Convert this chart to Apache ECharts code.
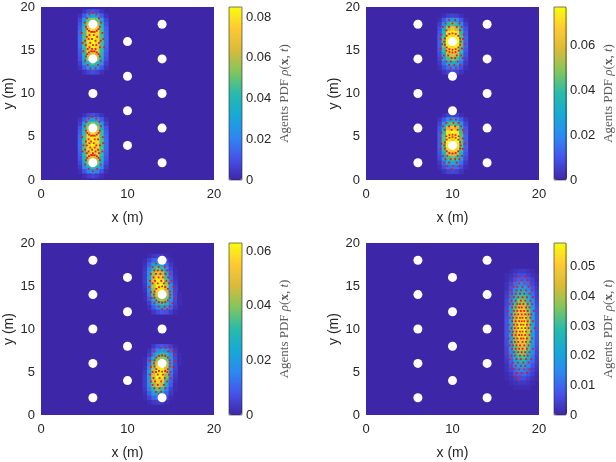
<!DOCTYPE html>
<html>
<head>
<meta charset="utf-8">
<style>
  html, body { margin: 0; padding: 0; width: 100%; height: 100%; overflow: hidden; background: #fff; }
</style>
<script src="https://cdn.jsdelivr.net/npm/echarts@6/dist/echarts.min.js"></script>
</head>
<body>
<div id="container" style="width:616px;height:462px;"></div>
<script>
// obstacle centres (m)
const obstacles = [[6, 2], [6, 6], [6, 10], [6, 14], [6, 18], [10, 4], [10, 8], [10, 12], [10, 16],
  [14, 2], [14, 6], [14, 10], [14, 14], [14, 18]];

// density blobs: [x of first column, y of top row, rows of values in units of 0.001], 0.5 m cells
const density1 = [
  [4.5, 19.5, [
    [0, 3, 8, 10, 8, 3, 0],
    [3, 12, 25, 30, 25, 12, 3],
    [7, 28, 50, 55, 50, 28, 7],
    [10, 38, 62, 65, 62, 38, 10],
    [13, 44, 72, 80, 72, 44, 13],
    [15, 46, 76, 84, 76, 46, 15],
    [16, 47, 77, 85, 77, 47, 16],
    [16, 47, 77, 85, 77, 47, 16],
    [15, 46, 76, 84, 76, 46, 15],
    [13, 44, 72, 80, 72, 44, 13],
    [11, 40, 64, 68, 64, 40, 11],
    [9, 34, 56, 58, 56, 34, 9],
    [6, 24, 42, 46, 42, 24, 6],
    [3, 12, 24, 28, 24, 12, 3],
    [0, 3, 7, 9, 7, 3, 0]]],
  [4.5, 7.5, [
    [0, 3, 7, 9, 7, 3, 0],
    [3, 12, 24, 28, 24, 12, 3],
    [6, 26, 48, 52, 48, 26, 6],
    [10, 36, 60, 62, 60, 36, 10],
    [13, 44, 71, 79, 71, 44, 13],
    [15, 46, 76, 84, 76, 46, 15],
    [16, 47, 78, 85, 78, 47, 16],
    [16, 47, 77, 85, 77, 47, 16],
    [15, 46, 75, 83, 75, 46, 15],
    [13, 43, 70, 78, 70, 43, 13],
    [11, 38, 62, 66, 62, 38, 11],
    [8, 32, 52, 56, 52, 32, 8],
    [5, 22, 38, 42, 38, 22, 5],
    [2, 10, 20, 24, 20, 10, 2],
    [0, 2, 5, 7, 5, 2, 0]]]
];
const density2 = [
  [8.5, 19.0, [
    [0, 2, 5, 6, 5, 2, 0],
    [2, 10, 20, 25, 20, 10, 2],
    [5, 20, 38, 45, 38, 20, 5],
    [8, 30, 55, 65, 55, 30, 8],
    [10, 38, 70, 77, 70, 38, 10],
    [12, 42, 75, 70, 75, 42, 12],
    [12, 45, 77, 60, 77, 45, 12],
    [12, 45, 75, 70, 75, 45, 12],
    [10, 40, 68, 75, 68, 40, 10],
    [8, 32, 55, 60, 55, 32, 8],
    [6, 25, 42, 48, 42, 25, 6],
    [4, 15, 28, 32, 28, 15, 4],
    [2, 8, 15, 18, 15, 8, 2],
    [0, 3, 6, 7, 6, 3, 0]]],
  [8.5, 7.5, [
    [0, 2, 5, 6, 5, 2, 0],
    [3, 10, 20, 24, 20, 10, 3],
    [6, 22, 40, 46, 40, 22, 6],
    [9, 32, 58, 66, 58, 32, 9],
    [11, 40, 72, 77, 72, 40, 11],
    [12, 44, 77, 75, 77, 44, 12],
    [12, 45, 76, 65, 76, 45, 12],
    [12, 44, 74, 60, 74, 44, 12],
    [11, 40, 68, 68, 68, 40, 11],
    [9, 32, 55, 60, 55, 32, 9],
    [7, 24, 40, 45, 40, 24, 7],
    [4, 15, 26, 30, 26, 15, 4],
    [2, 8, 14, 16, 14, 8, 2],
    [0, 3, 6, 7, 6, 3, 0]]]
];
const density3 = [
  [12.0, 18.5, [
    [0, 1, 3, 4, 3, 1, 0, 0, 0],
    [1, 5, 10, 12, 10, 5, 1, 0, 0],
    [2, 9, 20, 24, 20, 10, 3, 0, 0],
    [3, 14, 30, 38, 32, 16, 5, 1, 0],
    [4, 18, 40, 50, 44, 24, 8, 1, 0],
    [4, 20, 46, 58, 54, 32, 10, 2, 0],
    [4, 20, 48, 62, 60, 38, 13, 3, 0],
    [3, 18, 46, 62, 63, 44, 16, 4, 0],
    [2, 15, 42, 58, 60, 46, 18, 5, 0],
    [1, 12, 36, 50, 50, 44, 20, 6, 1],
    [1, 8, 26, 40, 44, 38, 18, 6, 1],
    [0, 4, 16, 28, 34, 30, 15, 5, 1],
    [0, 2, 8, 16, 20, 18, 10, 3, 0],
    [0, 0, 3, 6, 8, 7, 4, 1, 0]]],
  [12.0, 8.0, [
    [0, 0, 3, 7, 8, 7, 4, 1, 0],
    [0, 2, 8, 16, 20, 18, 10, 3, 0],
    [0, 4, 16, 28, 34, 30, 15, 5, 1],
    [1, 8, 26, 40, 44, 38, 18, 6, 1],
    [1, 12, 36, 50, 50, 44, 20, 6, 1],
    [2, 15, 42, 58, 60, 46, 18, 5, 0],
    [3, 18, 46, 62, 63, 44, 16, 4, 0],
    [4, 20, 48, 63, 60, 38, 13, 3, 0],
    [4, 20, 46, 58, 54, 32, 10, 2, 0],
    [4, 18, 40, 50, 44, 24, 8, 1, 0],
    [3, 14, 30, 38, 32, 16, 5, 1, 0],
    [2, 9, 20, 24, 20, 10, 3, 0, 0],
    [1, 5, 10, 12, 10, 5, 1, 0, 0],
    [0, 1, 3, 4, 3, 1, 0, 0, 0]]]
];
const density4 = [
  [16.25, 16.75, [
    [0, 1, 2, 3, 3, 2, 1, 0],
    [1, 2, 4, 6, 6, 4, 2, 1],
    [1, 3, 7, 9, 9, 7, 4, 1],
    [2, 5, 10, 14, 14, 10, 5, 2],
    [2, 7, 14, 19, 19, 14, 7, 3],
    [3, 9, 18, 25, 25, 18, 10, 4],
    [4, 11, 23, 31, 31, 23, 12, 4],
    [5, 13, 27, 37, 37, 27, 15, 5],
    [5, 15, 32, 42, 42, 32, 17, 6],
    [6, 17, 35, 47, 47, 35, 19, 7],
    [6, 19, 38, 51, 51, 38, 20, 7],
    [7, 19, 40, 53, 54, 40, 21, 8],
    [7, 20, 41, 55, 56, 41, 22, 8],
    [7, 20, 42, 57, 58, 41, 22, 8],
    [7, 20, 41, 56, 57, 41, 22, 8],
    [7, 19, 40, 54, 54, 40, 21, 8],
    [6, 19, 38, 51, 52, 38, 20, 7],
    [6, 17, 35, 47, 48, 35, 19, 7],
    [5, 15, 32, 42, 43, 32, 17, 6],
    [5, 13, 27, 37, 38, 27, 15, 5],
    [4, 11, 23, 31, 32, 23, 12, 4],
    [3, 9, 18, 25, 26, 18, 10, 4],
    [2, 7, 14, 19, 20, 14, 7, 3],
    [2, 5, 10, 14, 14, 10, 5, 2],
    [1, 3, 7, 9, 10, 7, 4, 1],
    [1, 2, 4, 6, 6, 4, 2, 1],
    [0, 1, 2, 3, 3, 2, 1, 0],
    [0, 0, 1, 1, 1, 1, 0, 0]]]
];

// agent positions, grouped by row: [y, [x, ...]]
const agents1 = [
  [19.3, [6.0]], [19.15, [5.6, 6.4]], [18.7, [5.3, 6.7]], [18.2, [5.05, 6.95]],
  [17.7, [5.2, 6.8]], [17.45, [5.35, 6.65]], [17.25, [5.55, 6.45]], [17.12, [5.8, 6.0, 6.2]],
  [17.0, [4.7, 7.1]], [16.75, [5.6, 6.1]], [16.55, [5.3, 6.5]], [16.3, [5.5, 5.9, 7.2]],
  [16.1, [5.1, 6.3, 6.9]], [15.85, [4.8, 5.7, 6.7]], [15.6, [5.2, 6.0, 6.4]], [15.35, [5.6, 6.8, 7.3]],
  [15.15, [5.4, 5.9, 6.3]], [14.88, [4.9, 5.8, 6.0, 6.2]], [14.75, [5.55, 6.45]], [14.55, [5.35, 6.65]],
  [14.3, [5.2, 6.8]], [13.8, [5.1, 6.9]], [13.3, [5.4, 6.6]], [12.9, [5.7, 6.3]],
  [7.3, [5.9]], [7.1, [5.5, 6.4]], [6.7, [5.25, 6.75]], [6.2, [5.05, 6.95]],
  [5.7, [5.2, 6.8]], [5.45, [5.35, 6.65]], [5.25, [5.55, 6.45]], [5.12, [5.8, 6.0, 6.2]],
  [4.95, [4.75, 7.15]], [4.7, [5.5, 6.2, 6.6]], [4.45, [5.2, 5.8]], [4.25, [5.6, 6.1, 7.2]],
  [4.0, [4.9, 5.3, 6.4, 6.8]], [3.75, [5.7, 6.2]], [3.5, [5.1, 5.9, 6.6]], [3.3, [4.8, 5.5, 6.3, 7.1]],
  [3.1, [5.3, 6.0, 6.7]], [2.88, [5.8, 6.0, 6.2]], [2.75, [5.55, 6.45]], [2.55, [5.35, 6.65]],
  [2.3, [5.2, 6.8]], [1.8, [5.1, 6.9]], [1.3, [5.5, 6.5]], [1.0, [6.0]]
];
const agents2 = [
  [18.5, [9.6, 10.3]], [18.1, [9.2, 10.0, 10.8]], [17.7, [8.9, 9.6, 10.5, 11.1]], [17.3, [9.3, 10.9]],
  [16.95, [10.0]], [16.88, [9.64, 10.36]], [16.8, [8.7, 11.3]], [16.67, [9.33, 10.67]],
  [16.36, [9.12, 10.88]], [16.3, [8.6, 11.2]], [16.0, [9.05, 10.95]], [15.7, [8.8, 11.4]],
  [15.64, [9.12, 10.88]], [15.33, [9.33, 10.67]], [15.2, [8.6, 11.1]], [15.12, [9.64, 10.36]],
  [15.05, [10.0]], [14.95, [9.3, 10.7]], [14.8, [9.65, 10.35]], [14.75, [10.0]],
  [14.4, [9.0, 9.5, 10.5, 11.0]], [14.1, [8.8, 9.9, 10.3, 11.2]], [13.7, [9.3, 9.8, 10.6]],
  [13.3, [9.6, 10.2, 10.9]], [12.9, [9.8, 10.4]],
  [7.0, [9.8, 10.4]], [6.6, [9.3, 10.1, 10.7]], [6.2, [8.9, 9.6, 10.3, 11.0]], [5.8, [9.1, 9.9, 10.6, 11.2]],
  [5.5, [8.7, 11.3]], [5.25, [10.0]], [5.2, [9.65, 10.35]], [5.05, [9.3, 10.7]],
  [4.95, [10.0]], [4.88, [9.64, 10.36]], [4.8, [8.6, 11.2]], [4.67, [9.33, 10.67]],
  [4.36, [9.12, 10.88]], [4.2, [8.7, 11.4]], [4.0, [9.05, 10.95]], [3.64, [9.12, 10.88]],
  [3.6, [8.6, 11.2]], [3.33, [9.33, 10.67]], [3.12, [9.64, 10.36]], [3.05, [10.0]],
  [2.8, [8.9, 9.4, 10.6, 11.1]], [2.4, [9.2, 9.8, 10.3, 10.8]], [2.0, [9.0, 9.6, 10.5]],
  [1.6, [9.4, 10.1, 10.7]], [1.3, [9.9]]
];
const agents3 = [
  [17.6, [13.3, 13.9]], [17.2, [12.9, 13.6, 14.3]], [16.8, [13.1, 13.5, 14.0, 14.6]],
  [16.4, [12.7, 13.3, 13.8, 14.4, 14.9]], [16.0, [13.0, 13.6, 14.1, 14.7]],
  [15.6, [12.6, 13.2, 13.9, 14.5, 15.1]], [15.3, [12.9, 13.5, 14.2, 14.8]],
  [14.95, [14.0]], [14.9, [12.5, 15.3]], [14.88, [13.64, 14.36]], [14.67, [13.33, 14.67]],
  [14.36, [13.12, 14.88]], [14.3, [12.7, 15.4]], [14.0, [13.05, 14.95]], [13.64, [13.12, 14.88]],
  [13.6, [12.8, 15.5]], [13.33, [13.33, 14.67]], [13.12, [13.64, 14.36]], [13.05, [14.0]],
  [13.0, [13.1, 15.2]], [12.6, [13.6, 14.3, 14.9]], [12.3, [14.0, 14.6]],
  [7.8, [13.8, 14.4, 15.0]], [7.4, [13.1, 14.7, 15.3]], [7.0, [12.8, 15.4]],
  [6.95, [14.0]], [6.88, [13.64, 14.36]], [6.67, [13.33, 14.67]], [6.36, [13.12, 14.88]],
  [6.3, [12.6, 15.5]], [6.0, [13.05, 14.95]], [5.64, [13.12, 14.88]], [5.6, [12.7, 15.3]],
  [5.33, [13.33, 14.67]], [5.12, [13.64, 14.36]], [5.05, [14.0]],
  [5.0, [12.9, 13.3, 14.6, 15.0]], [4.7, [12.6, 13.5, 14.1, 14.8]], [4.3, [13.0, 13.7, 14.3, 15.0]],
  [3.9, [12.7, 13.2, 13.9, 14.6]], [3.5, [12.9, 13.5, 14.2]], [3.1, [13.1, 13.7, 14.4]],
  [2.7, [13.3, 13.9]], [2.4, [13.6]]
];
const agents4 = [
  [16.1, [17.6, 18.4]], [15.7, [17.2, 18.0, 18.7]], [15.3, [16.9, 17.7, 18.3, 19.0]],
  [14.9, [17.1, 17.5, 18.1, 18.8]], [14.5, [16.7, 17.4, 17.9, 18.5, 19.2]],
  [14.1, [16.9, 17.3, 17.8, 18.3, 18.9]], [13.7, [16.5, 17.1, 17.6, 18.1, 18.6, 19.3]],
  [13.3, [16.8, 17.3, 17.9, 18.4, 19.0]], [12.9, [16.6, 17.0, 17.5, 17.8, 18.2, 18.7, 19.2]],
  [12.5, [16.9, 17.3, 17.7, 18.0, 18.5, 18.9]], [12.1, [16.4, 17.1, 17.5, 17.9, 18.3, 18.7, 19.4]],
  [11.7, [16.8, 17.2, 17.6, 18.0, 18.4, 18.8, 19.1]], [11.3, [16.6, 17.0, 17.4, 17.8, 18.1, 18.5, 19.0]],
  [10.9, [16.9, 17.3, 17.7, 18.0, 18.3, 18.7, 19.3]], [10.5, [16.5, 17.1, 17.5, 17.9, 18.2, 18.6, 19.0]],
  [10.1, [16.8, 17.2, 17.6, 18.0, 18.4, 18.8, 19.5]], [9.7, [16.6, 17.0, 17.4, 17.8, 18.1, 18.5, 19.1]],
  [9.3, [16.9, 17.3, 17.7, 18.0, 18.4, 18.9]], [8.9, [16.5, 17.1, 17.5, 17.9, 18.2, 18.6, 19.2]],
  [8.5, [16.8, 17.2, 17.6, 18.1, 18.5, 19.0]], [8.1, [16.6, 17.0, 17.4, 17.8, 18.3, 18.8]],
  [7.7, [16.9, 17.3, 17.7, 18.1, 18.6, 19.3]], [7.3, [16.4, 17.1, 17.6, 18.0, 18.4, 18.9]],
  [6.9, [16.8, 17.2, 17.8, 18.3, 18.7]], [6.5, [16.6, 17.4, 17.9, 18.5, 19.1]],
  [6.1, [17.0, 17.6, 18.2, 18.8]], [5.7, [16.8, 17.3, 17.9, 18.4]], [5.3, [17.1, 17.7, 18.3, 18.9]],
  [4.9, [17.4, 18.0, 18.6]], [4.5, [17.2, 17.8]], [4.1, [17.6]]
];

// colour bar ranges and tick steps
const pdfMax = [0.085, 0.077, 0.063, 0.058];
const barStep = [0.02, 0.02, 0.02, 0.01];

const parula = ['#3e26a8', '#4653ea', '#2d88f2', '#16aad6', '#28bbab', '#80c65d', '#d8bb3a', '#fdc932', '#f9fb0e'];
const CELL = 0.5;
const textColor = '#262626';
const sans = 'Liberation Sans, Arial, sans-serif';
const serif = 'Liberation Serif, serif';

function cells(blobs) {
  const out = [];
  blobs.forEach(function (b) {
    b[2].forEach(function (row, i) {
      row.forEach(function (v, j) {
        if (v > 0) out.push([b[0] + j * CELL, b[1] - i * CELL, v / 1000]);
      });
    });
  });
  return out;
}

function points(rows) {
  const out = [];
  rows.forEach(function (r) {
    r[1].forEach(function (x) { out.push([x, r[0]]); });
  });
  return out;
}

function renderCell(params, api) {
  const corner = api.coord([api.value(0) - CELL / 2, api.value(1) + CELL / 2]);
  const size = api.size([CELL, CELL]);
  return {
    type: 'rect',
    shape: { x: corner[0], y: corner[1], width: size[0] + 0.6, height: size[1] + 0.6 },
    style: { fill: api.visual('color') }
  };
}

const panels = [
  { left: 41, top: 7, height: 173, heat: density1, agents: agents1 },
  { left: 366, top: 7, height: 173, heat: density2, agents: agents2 },
  { left: 41, top: 243, height: 172, heat: density3, agents: agents3 },
  { left: 366, top: 243, height: 172, heat: density4, agents: agents4 }
];

const option = {
  animation: false,
  grid: [], xAxis: [], yAxis: [], series: [], visualMap: []
};

panels.forEach(function (p, i) {
  const g = i * 2;
  const barLeft = p.left + 188;
  option.grid.push({
    left: p.left, top: p.top, width: 173, height: p.height,
    show: true, backgroundColor: parula[0], borderWidth: 0
  });
  option.grid.push({
    left: barLeft, top: p.top, width: 13, height: p.height,
    show: true, backgroundColor: 'transparent', borderColor: textColor, borderWidth: 0.6, z: 6
  });
  option.xAxis.push({
    type: 'value', gridIndex: g, min: 0, max: 20, interval: 10,
    name: 'x (m)', nameLocation: 'middle', nameGap: 31,
    nameTextStyle: { color: textColor, fontSize: 14, fontFamily: sans },
    axisLine: { show: false }, axisTick: { show: false }, splitLine: { show: false },
    axisLabel: { color: textColor, fontSize: 13, fontFamily: sans, margin: 8 }
  });
  option.xAxis.push({ type: 'value', gridIndex: g + 1, min: 0, max: 1, show: false });
  option.yAxis.push({
    type: 'value', gridIndex: g, min: 0, max: 20, interval: 5,
    name: 'y (m)', nameLocation: 'middle', nameGap: 19,
    nameTextStyle: { color: textColor, fontSize: 14, fontFamily: sans },
    axisLine: { show: false }, axisTick: { show: false }, splitLine: { show: false },
    axisLabel: { color: textColor, fontSize: 13, fontFamily: sans, margin: 6 }
  });
  option.yAxis.push({
    type: 'value', gridIndex: g + 1, position: 'right', min: 0, max: pdfMax[i], interval: barStep[i],
    name: '{a|Agents PDF }{i|ρ}{a|(}{b|x}{a|, }{i|t}{a|)}',
    nameLocation: 'middle', nameRotate: 90, nameGap: 36,
    nameTextStyle: {
      rich: {
        a: { fontFamily: serif, fontSize: 13, color: '#5a5a5a' },
        i: { fontFamily: serif, fontSize: 13, color: '#5a5a5a', fontStyle: 'italic' },
        b: { fontFamily: serif, fontSize: 13, color: '#5a5a5a', fontWeight: 'bold' }
      }
    },
    axisLine: { show: false }, splitLine: { show: false }, axisTick: { show: false },
    axisLabel: { color: textColor, fontSize: 13, fontFamily: sans, margin: 4, showMaxLabel: false }
  });
  const heatIndex = option.series.length;
  option.series.push({
    type: 'custom', xAxisIndex: g, yAxisIndex: g, silent: true, clip: true,
    renderItem: renderCell, encode: { x: 0, y: 1 }, data: cells(p.heat)
  });
  option.series.push({
    type: 'scatter', xAxisIndex: g, yAxisIndex: g, silent: true,
    symbol: 'rect', symbolSize: 1.8, itemStyle: { color: '#e81818', opacity: 1 },
    data: points(p.agents)
  });
  option.series.push({
    type: 'scatter', xAxisIndex: g, yAxisIndex: g, silent: true,
    symbol: 'circle', symbolSize: 9, itemStyle: { color: '#ffffff', opacity: 1 },
    data: obstacles
  });
  option.visualMap.push({
    type: 'continuous', seriesIndex: heatIndex, dimension: 2,
    min: 0, max: pdfMax[i], calculable: false, hoverLink: false,
    left: barLeft, top: p.top, itemWidth: 13, itemHeight: p.height, padding: 0,
    inRange: { color: parula }
  });
});

const myChart = echarts.init(document.getElementById('container'), null, { renderer: 'canvas' });
myChart.setOption(option);
window.addEventListener('resize', myChart.resize);
</script>
</body>
</html>
